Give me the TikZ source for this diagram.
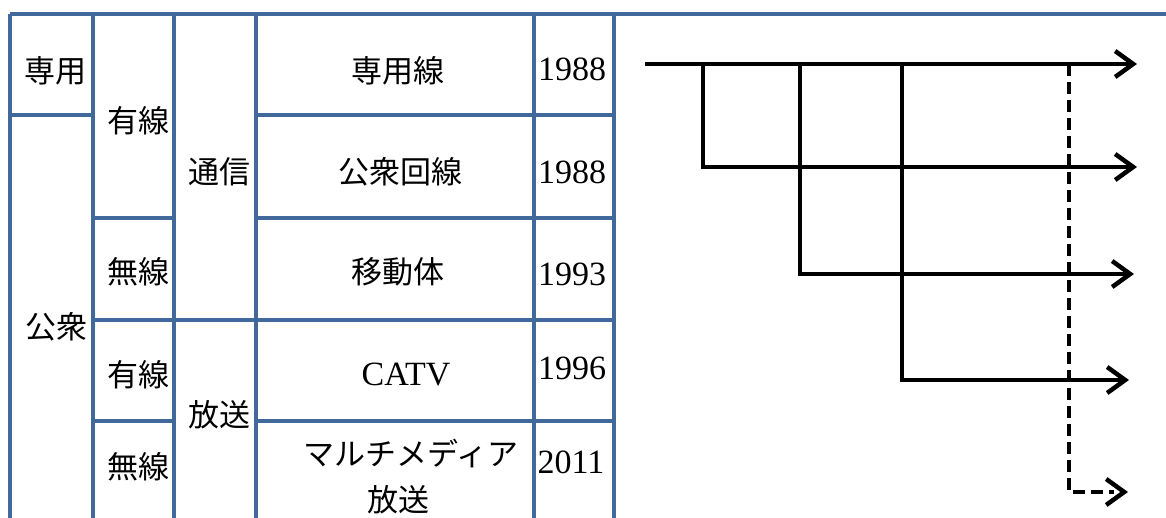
\documentclass[tikz,border=0pt]{standalone}
\usepackage{fontspec}
\setmainfont{Liberation Serif}
\newfontfamily\jp{Noto Sans CJK JP}
\usetikzlibrary{arrows.meta}
\definecolor{tblue}{HTML}{41699C}
\tikzset{
  grid/.style={draw=tblue, line width=3.5pt},
  jtext/.style={font=\jp\fontsize{31}{36}\selectfont, inner sep=0pt, anchor=center},
  ytext/.style={font=\fontsize{34}{38}\selectfont, inner sep=0pt, anchor=center},
  flow/.style={draw=black, line width=4.5pt, -{Straight Barb[length=18pt,width=26pt,line width=4.5pt]}},
  flowplain/.style={draw=black, line width=4.5pt},
  flowdash/.style={draw=black, line width=4pt, dash pattern=on 12pt off 6pt}
}
\begin{document}
\begin{tikzpicture}[x=1pt,y=-1pt]
\useasboundingbox (0,0) rectangle (1166,518);
% table grid
\draw[grid] (10,14) -- (1166,14);
\foreach \x in {10,93,174,256,534,614} \draw[grid] (\x,14) -- (\x,520);
\draw[grid] (10,115) -- (93,115);
\draw[grid] (256,115) -- (614,115);
\draw[grid] (93,218) -- (174,218);
\draw[grid] (256,218) -- (614,218);
\draw[grid] (93,320) -- (614,320);
\draw[grid] (93,421) -- (174,421);
\draw[grid] (256,421) -- (614,421);
% texts
\node[jtext] (senyo) at (55,71) {専用};
\node[jtext] (koshu) at (56,327) {公衆};
\node[jtext] (yusen1) at (138,121) {有線};
\node[jtext] (musen1) at (138,272) {無線};
\node[jtext] (yusen2) at (138,375) {有線};
\node[jtext] (musen2) at (138,467) {無線};
\node[jtext] (tsushin) at (219,172) {通信};
\node[jtext] (hoso) at (219,415) {放送};
\node[jtext] (senyosen) at (398,71) {専用線};
\node[jtext] (koshukaisen) at (400,172) {公衆回線};
\node[jtext] (idotai) at (398,272) {移動体};
\node[ytext] (catv) at (406,375) {CATV};
\node[jtext] (md1) at (411,454) {マルチメディア};
\node[jtext] (md2) at (398,500) {放送};
\node[ytext] (y1) at (572,69) {1988};
\node[ytext] (y2) at (572,172) {1988};
\node[ytext] (y3) at (572,274) {1993};
\node[ytext] (y4) at (572,368) {1996};
\node[ytext] (y5) at (571,462) {2011};
% arrows
\coordinate (s) at (645,64);
\coordinate (e1) at (1137,64);
\coordinate (j1) at (703,64);
\coordinate (j2) at (800,64);
\coordinate (j3) at (902,64);
\coordinate (j4) at (1069,64);
\coordinate (c1) at (703,167);
\coordinate (c2) at (800,274);
\coordinate (c3) at (902,380);
\coordinate (c4) at (1069,492);
\coordinate (e2) at (1137,167);
\coordinate (e3) at (1134,274);
\coordinate (e4) at (1129,380);
\coordinate (e5) at (1128,492);
\draw[flowdash] (j4) -- (c4) -- ([xshift=-14pt]e5);
\draw[flow, dash pattern=on 0pt off 100pt, dash phase=0pt] ([xshift=-16pt]e5) -- (e5);
\draw[flow] (s) -- (e1);
\draw[flowplain] ([yshift=-2pt]j1) -- (c1);
\draw[flow] ([xshift=-2.25pt]c1) -- (e2);
\draw[flowplain] ([yshift=-2pt]j2) -- (c2);
\draw[flow] ([xshift=-2.25pt]c2) -- (e3);
\draw[flowplain] ([yshift=-2pt]j3) -- (c3);
\draw[flow] ([xshift=-2.25pt]c3) -- (e4);
\end{tikzpicture}
\end{document}
